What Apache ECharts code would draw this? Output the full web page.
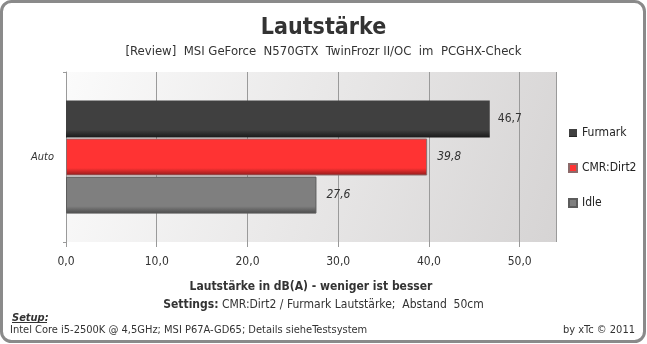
<!DOCTYPE html>
<html lang="de">
<head>
<meta charset="UTF-8">
<title>Lautstärke</title>
<script src="https://cdn.jsdelivr.net/npm/echarts@6/dist/echarts.min.js"></script>
<style>
    html, body { margin: 0; padding: 0; background: #fff; }
    #chart { width: 647px; height: 344px; }
</style>
</head>
<body>
<div id="chart"></div>
<script>
    // values
    var categories = ['Auto'];
    var seriesNames = ['Furmark', 'CMR:Dirt2', 'Idle'];
    var furmarkValues = [46.7];
    var dirtValues = [39.8];
    var idleValues = [27.6];

    var font = '"DejaVu Sans Condensed", Tahoma, sans-serif';

    function comma(v, d) {
        return v.toFixed(d).replace('.', ',');
    }

    function barGrad(top, bottom) {
        return new echarts.graphic.LinearGradient(0, 0, 0, 1, [
            { offset: 0, color: top },
            { offset: 0.8, color: top },
            { offset: 1, color: bottom }
        ]);
    }

    function valLabel(italic, dist) {
        return {
            show: true, position: 'right', distance: dist, fontSize: 12,
            fontStyle: italic ? 'italic' : 'normal', color: '#333', fontFamily: font,
            formatter: function (p) { return comma(p.value, 1); }
        };
    }

    var chart = echarts.init(document.getElementById('chart'));
    var option = {
        animation: false,
        backgroundColor: '#fff',
        textStyle: { fontFamily: font },
        title: [
            { text: 'Lautstärke', left: 'center', top: 12,
              textStyle: { fontSize: 23, fontWeight: 'bold', color: '#333', fontFamily: font } },
            { text: '[Review]  MSI GeForce  N570GTX  TwinFrozr II/OC  im  PCGHX-Check', left: 'center', top: 40,
              textStyle: { fontSize: 13, fontWeight: 'normal', color: '#333', fontFamily: font } },
            { text: '{b|Settings:} {n|CMR:Dirt2 / Furmark Lautstärke;  Abstand  50cm}', left: 'center', top: 294,
              textStyle: { fontSize: 12, fontWeight: 'normal', color: '#333', fontFamily: font,
                  rich: {
                      b: { fontWeight: 'bold', fontSize: 12, color: '#333', fontFamily: font },
                      n: { fontWeight: 'normal', fontSize: 12, color: '#333', fontFamily: font }
                  } } },
            { text: 'Setup:', left: 12, top: 313, padding: 0,
              textStyle: { fontSize: 11, fontWeight: 'bold', fontStyle: 'italic', color: '#333', fontFamily: font } },
            { text: 'Intel Core i5-2500K @ 4,5GHz; MSI P67A-GD65; Details sieheTestsystem', left: 10, top: 325, padding: 0,
              textStyle: { fontSize: 11, fontWeight: 'normal', color: '#333', fontFamily: font } },
            { text: 'by xTc © 2011', right: 12, top: 325, padding: 0,
              textStyle: { fontSize: 11, fontWeight: 'normal', color: '#333', fontFamily: font } }
        ],
        graphic: [{
            type: 'rect',
            shape: { x: 1.5, y: 1.5, width: 643, height: 340, r: 10 },
            style: { fill: 'none', stroke: '#8a8a8a', lineWidth: 3 },
            silent: true
        }, {
            type: 'line',
            shape: { x1: 12, y1: 322.5, x2: 47, y2: 322.5 },
            style: { stroke: '#333', lineWidth: 1 },
            silent: true
        }],
        legend: {
            orient: 'vertical',
            left: 563,
            top: 122,
            itemWidth: 8,
            itemHeight: 8,
            itemGap: 23,
            icon: 'rect',
            data: seriesNames,
            textStyle: { fontSize: 12, color: '#222', fontFamily: font }
        },
        grid: {
            left: 66, right: 91, top: 72, bottom: 102,
            show: true,
            borderWidth: 0,
            backgroundColor: new echarts.graphic.LinearGradient(0, 0, 1, 1, [
                { offset: 0, color: '#fbfbfb' },
                { offset: 1, color: '#d6d4d4' }
            ])
        },
        xAxis: {
            type: 'value',
            min: 0,
            max: 54,
            interval: 10,
            name: 'Lautstärke in dB(A) - weniger ist besser',
            nameLocation: 'middle',
            nameGap: 39,
            nameTextStyle: { fontSize: 12, fontWeight: 'bold', color: '#333', fontFamily: font },
            axisLine: { show: false },
            axisTick: { show: true, length: 5, lineStyle: { color: '#999' } },
            axisLabel: {
                fontSize: 12, color: '#333', margin: 14, fontFamily: font,
                showMaxLabel: false,
                formatter: function (v) { return comma(v, 1); }
            },
            splitLine: { show: true, lineStyle: { color: '#9a9a9a', width: 1 } }
        },
        yAxis: {
            type: 'category',
            data: categories,
            axisLine: { show: true, lineStyle: { color: '#9a9a9a' } },
            axisTick: { show: true, length: 3, lineStyle: { color: '#9a9a9a' } },
            axisLabel: { fontSize: 11, fontStyle: 'italic', color: '#333', margin: 12, fontFamily: font }
        },
        series: [{
            name: seriesNames[0],
            type: 'bar',
            data: furmarkValues,
            barWidth: 37,
            barGap: '3%',
            itemStyle: { color: barGrad('#404040', '#1a1a1a') },
            label: valLabel(false, 8)
        }, {
            name: seriesNames[1],
            type: 'bar',
            data: dirtValues,
            barWidth: 37,
            barGap: '3%',
            itemStyle: { color: barGrad('#ff3333', '#8e1a1a'), borderColor: '#8c6a6a', borderWidth: 1 },
            label: valLabel(true, 10)
        }, {
            name: seriesNames[2],
            type: 'bar',
            data: idleValues,
            barWidth: 37,
            barGap: '3%',
            itemStyle: { color: barGrad('#7f7f7f', '#4a4a4a'), borderColor: '#5c5c5c', borderWidth: 1 },
            label: valLabel(true, 10)
        }]
    };
    chart.setOption(option);
</script>
</body>
</html>
